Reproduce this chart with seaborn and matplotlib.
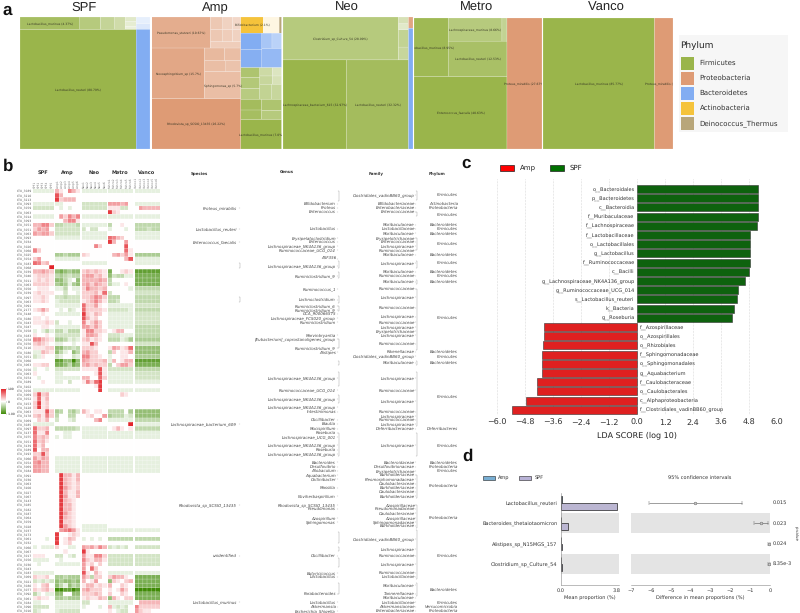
import numpy as np
import pandas as pd
import seaborn as sns
import matplotlib
matplotlib.use('Agg')
import matplotlib.pyplot as plt
from matplotlib.colors import LinearSegmentedColormap, to_rgb
from matplotlib.patches import Rectangle

W, H = 800, 613

# ---- panel a: treemap data, areas are percent of each group ----
F, P, B, A, D = 'Firmicutes', 'Proteobacteria', 'Bacteroidetes', 'Actinobacteria', 'Deinococcus_Thermus'
phylum_colors = {F: '#9AB54B', P: '#DE9B75', B: '#82ADF2', A: '#F5C33B', D: '#B8A67A'}


def leaf(area, phylum, shade=0.0, label=''):
    return {'area': area, 'phylum': phylum, 'shade': shade, 'label': label}


def row(*kids):
    return {'dir': 'row', 'kids': kids}


def col(*kids):
    return {'dir': 'col', 'kids': kids}


spf_tree = row(
    col(row(leaf(4.37, F, .12, 'Lactobacillus_murinus (4.37%)'), leaf(1.5, F, .28), leaf(1.0, F, .42), leaf(.8, F, .52),
            col(leaf(.3, F, .7), leaf(.3, F, .75), leaf(.2, F, .8))),
        leaf(80.79, F, 0, 'Lactobacillus_reuteri (80.79%)')),
    col(leaf(.55, B, .8), leaf(.45, B, .72), leaf(9.7, B, 0)))
amp_tree = row(
    col(row(leaf(10.67, P, .18, 'Pseudomonas_stutzeri (10.67%)'),
            col(row(leaf(.9, P, .45), leaf(.7, P, .55), leaf(.6, P, .6)),
                row(leaf(.9, P, .45), leaf(.7, P, .5), leaf(.6, P, .55)),
                leaf(1.1, P, .5))),
        row(leaf(15.7, P, .12, 'Novosphingobium_sp (15.7%)'),
            col(row(leaf(1.5, P, .3), leaf(1.2, P, .35)), row(leaf(1.3, P, .35), leaf(1.0, P, .4)),
                leaf(5.7, P, .35, 'Sphingomonas_sp (5.7%)'))),
        leaf(26.22, P, 0, 'Rhodovista_sp_SCSIO_13435 (26.22%)')),
    col(row(leaf(2.1, A, 0, 'Bifidobacterium (2.1%)'), leaf(1.5, A, .85), leaf(.22, D, 0)),
        row(col(leaf(2.05, B, 0), leaf(2.2, B, .03)),
            col(row(leaf(.9, B, .3), leaf(.85, B, .45)), leaf(2.2, B, .15))),
        row(col(leaf(1.1, F, .2), leaf(1.2, F, .25), leaf(1.2, F, .3)),
            col(row(leaf(.6, F, .5), leaf(.45, F, .65)), row(leaf(.6, F, .45), leaf(.45, F, .6)),
                row(leaf(1.0, F, .4), leaf(.9, F, .45)))),
        row(col(leaf(1.3, F, .1), leaf(1.15, F, .12)), col(leaf(1.3, F, .2), leaf(1.03, F, .28))),
        leaf(7.0, F, 0, 'Lactobacillus_murinus (7.0%)')))
neo_tree = row(
    col(row(leaf(28.99, F, .28, 'Clostridium_sp_Culture_54 (28.99%)'),
            col(leaf(.4, F, .6), leaf(.35, F, .7), leaf(1.0, F, .4), leaf(.75, F, .45))),
        row(leaf(32.97, F, 0, 'Lachnospiraceae_bacterium_615 (32.97%)'),
            leaf(32.32, F, .1, 'Lactobacillus_reuteri (32.32%)'))),
    col(leaf(.3, P, .1), leaf(3.2, B, .0)))
metro_tree = row(
    col(row(leaf(12.1, F, .05, 'Lactobacillus_murinus (8.95%)'),
            col(row(leaf(7.5, F, .28, 'Lachnospiraceae_murinus (8.66%)'), leaf(.7, F, .4)),
                leaf(12.53, F, .15, 'Lactobacillus_reuteri (12.53%)'))),
        leaf(40.63, F, 0, 'Enterococcus_faecalis (40.63%)')),
    leaf(27.67, P, 0, 'Proteus_mirabilis (27.67%)'))
vanco_tree = row(leaf(85.77, F, 0, 'Lactobacillus_murinus (85.77%)'), leaf(14.2, P, 0, 'Proteus_mirabilis (14.2%)'))

# ---- panel b: heatmap, digits are red levels, letters green levels, . is zero ----
heat_rows = [
    'aaaaa 31.531 aaaaaa aaaaaa aaaaaa', '..... 73.... ...... ...... ......', '..... 82333. ...... ...... ......',
    'aaaaa aa.... bbbbbb 44434. aaaaaa', 'bbbbb .a.a.. bbbbbb 111bb. .43333', '..... ...... ...... 821... ......',
    'aaaaa .42535 aaaaaa aaaaaa aaaaaa', '..... ..3551 ...... ...... ......', '33552 ccbbbc aaaaaa c..1.. cccccc',
    '2434. bbbbbb b.bb.. a...a. cccbcc', '43442 bbbbbb aaaaaa ...... aaaaaa', '..... aaaaaa aaaaaa 6532.. aaaaaa',
    '..... ...... ...... 83..4. ......', '..... ...... ...52. ....7. ......', '52... ...... ...... ....61 ......',
    '..... ddcddd 21.... .34241 dddddd', '24... aaaaaa ...... ....37 aaaaaa', '6523. ...... aaaaaa ...... aaaaaa',
    '....9 ...... ...... ...... ......', '33432 efedee 232321 f..121 gggggg', '12221 cdcbcc 344231 ebccaa ffffff',
    '12121 eeca.e 333343 c..... ffffff', '22221 dedade 342432 caa.1. ffffff', '.111. aac.aa 253323 .....a cccccc',
    '12111 ..b..a 222316 b..... bbbbbb', '1121. bbcbbb 223542 ccc... cccccc', '1121. abbbbb 123531 ccb... cccccc',
    '..... aaaaaa 62241. aaaaaa bbbbbb', '1242. .a.ba. 622221 bbbbba cccccc', '..1.. aaaaaa 82132. aaaaaa bbbbbb',
    '11.1. ...... 7312.. aaaaaa bbbbbb', '11121 b..a.. 51242. aaaaaa bbbbbb', '..11. aaaaaa 44242. aaaaaa cccccc',
    'a.aca ccaccc 155221 .133.. cccccc', '1..1. bbbbbb 14431. bbbaaa cccccc', '55321 ddcaba 23121. cccabd dddddd',
    '2321. aa..a. 1173.. ...... bbbbbb', '11122 eeccbc 2221.. 143126 eeeeee', 'aa321 eca.ec 3422.. c2.113 eeeeee',
    'ba1.. ba..ba 55221. a..11. dddddd', '..... ggeehe 432223 a3.133 gggggg', '1122. ffecfe 342322 c.2442 ffffff',
    'a..a. bbbbbb 111171 bbbbbb cccccc', '1.... aa.... ...171 aaaaaa bbbbbb', '.a... aaaaaa 33..62 aaaaaa bbbbbb',
    '..1.. aa.b.. 15268. aaaaaa aaaaaa', '..... ...... ...18. ...... ......', 'aaaaa aaaaaa ....8. aaaaaa aaaaaa',
    '2723. ...... ...... ...21. ......', '1613. ...... ...... ...... ......', '2812. ...... ...... ...... ......',
    '2812. ...... ...... ...... ......', '11172 dc.cdb 31.11. cccc.d eeeeee', '23152 c..cc. .12..4 dcccab eeeeee',
    '.213. b..ab. ...35. aaaaaa cccccc', 'aaaaa ...... ...... .....9 aaaaaa', '6223. cccccb aaaaaa .131.1 cccccc',
    '6115. ..aa.. aaaaaa aaaaaa aaaaaa', '5232. a.aa.. aaaaaa aaaaaa aaaaaa', '6231. ...... ...... ...... ......',
    '613.. ...... ...... ...... ......', '7.33. ...... ...... ...... ......', '2272. ...... ...... ...... ......',
    '4243. aaaaaa aaaaaa aaaaaa aaaaaa', '4533. aaaaaa aaaaaa aaaaaa aaaaaa', '4433. aaaaaa aaaaaa aaaaaa aaaaaa',
    '4433. aaaaaa aaaaaa aaaaaa aaaaaa', '..... .83313 ...... ...... ......', '..... .83213 ...... ...... ......',
    '..... .83212 ...... ...... ......', '..... .84212 ...... ...... ......', '..... .83113 ...... ...... ......',
    '..... .84113 ...... ...... ......', '..... .8321. ...... ...... ......', '..... .8331. ...... ...... ......',
    '..... .8331. ...... ...... ......', '..... .8421. ...... ...... ......', '..... .8321. ...... ...... ......',
    '..... .8221. ...... ...... ......', '..... .8421. aaaaaa ...... ......', '..... .45641 aaaaaa aaaaaa aaaaaa',
    '..... 8..121 ...... ...... ......', '...a. 8.132. a.a.a. cccccc cccccc', '..... 8.12.. ...... ...... ......',
    'a.aaa 2..aa. 434253 babab. bbbbbb', '..... ..1... 81.... ...... ......', '111.. bb.ab. 411552 bbbbbb bbbbbb',
    'aaaa. .a.... 521331 bbbbbb bbbbbb', '.a... aaaaaa 412.2. bbbbbb bbbbbb', '..... ...... 4.62.. ...... ......',
    'aaaaa ...... 71.31. aaaaaa aaaaaa', '2112. ddcddd 42c22. 24331. ffffff', 'babab edeede 3.14.. e21.23 ffffff',
    '1.23. ecaecd 133121 3..21. ffffff', '21231 hhgghg 34222. 1.142. hhhhhh', 'ca.aa ee..ee 22232. 2..21. ffffff',
    '1211. ddcddd 121132 e31.22 ffffff', 'aa... aaaaaa bb.... aaaaaa .33333', 'bbbb. aaaaaa a...a. 3abab. 522222',
    'ba... abbbbb ...... 1.abb. 42110.',
]
letter_levels = dict(zip('abcdefgh', [-.13, -.23, -.33, -.43, -.55, -.68, -.82, -1.0]))
group_names = ['SPF', 'Amp', 'Neo', 'Metro', 'Vanco']
group_sizes = [5, 6, 6, 6, 6]
group_x = [(33, 53.5), (55, 80), (81.5, 106.5), (108, 132.5), (134.5, 159.5)]
otu_numbers = ('3089 3210 3213 3093 3059 3063 3014 3093 3051 3051 3063 3093 3034 3026 3060 3025 3054 3083 3068 3039 '
               '3040 3011 3063 3050 3039 3097 3063 3091 2177 3148 3080 3043 3047 3058 3083 3078 3070 3116 3080 3051 '
               '3060 3063 3050 3063 3074 3089 3102 3056 3069 3052 3153 3128 3063 3178 3069 3085 3097 3137 3075 3051 '
               '3139 3089 3193 3066 3054 3069 3084 3091 3030 3063 3100 3027 3067 3143 3085 3082 3087 3064 3059 3028 '
               '3037 3173 3061 3032 3066 3067 3017 3056 3030 3043 3083 3069 3021 3080 3077 3092 3061 3084 3090 3016').split()

# panel b taxonomy columns as (row, name)
species = [(4, 'Proteus_mirabilis'), (9, 'Lactobacillus_reuteri'), (12, 'Enterococcus_faecalis'),
           (55, 'Lachnospiraceae_bacterium_609'), (74, 'Rhodovista_sp_SCSIO_13435'), (86, 'unidentified'),
           (97, 'Lactobacillus_murinus')]
genus = [(3, 'Bifidobacterium'), (4, 'Proteus'), (5, 'Enterococcus'), (9, 'Lactobacillus'), (11, 'Erysipelatoclostridium'),
         (12, 'Enterococcus'), (13, 'Lachnospiraceae_NK4A136_group'), (14, 'Ruminococcaceae_UCG_014'), (16, 'ASF356'),
         (17.6, 'Lachnospiraceae_NK4A136_group'), (20, 'Ruminiclostridium_9'), (23, 'Ruminococcus_1'),
         (25.6, 'Lachnoclostridium'), (27, 'Ruminiclostridium_6'), (28, 'Ruminiclostridium_9'), (29, 'GCA_900066575'),
         (30, 'Lachnospiraceae_FCS020_group'), (31, 'Ruminiclostridium'), (34, 'Marvinbryantia'),
         (35, '[Eubacterium]_coprostanoligenes_group'), (37, 'Ruminiclostridium_9'), (38, 'Alistipes'),
         (44, 'Lachnospiraceae_NK4A136_group'), (47, 'Ruminococcaceae_UCG_014'), (49, 'Lachnospiraceae_NK4A136_group'),
         (51, 'Lachnospiraceae_NK4A136_group'), (52, 'Intestinimonas'), (54, 'Oscillibacter'), (55, 'Blautia'),
         (56, 'Mucispirillum'), (57, 'Roseburia'), (58, 'Lachnospiraceae_UCG_001'), (60, 'Lachnospiraceae_NK4A136_group'),
         (61, 'Roseburia'), (62, 'Lachnospiraceae_NK4A136_group'), (64, 'Bacteroides'), (65, 'Desulfovibrio'),
         (66, 'Allobaculum'), (67, 'Aquabacterium'), (68, 'Chitinibacter'), (70, 'Massilia'), (72, 'Noviherbaspirillum'),
         (74, 'Rhodovista_sp_SCSIO_13435'), (75, 'Pseudomonas'), (77, 'Azospirillum'), (78, 'Sphingomonas'),
         (86, 'Oscillibacter'), (90, 'Butyricicoccus'), (91, 'Lactobacillus'), (95, 'Parabacteroides'),
         (97, 'Lactobacillus'), (98, 'Akkermansia'), (99, 'Escherichia_Shigella')]
family = [(1, 'Clostridiales_vadinBB60_group'), (3, 'Bifidobacteriaceae'), (4, 'Enterobacteriaceae'), (5, 'Enterococcaceae'),
          (8, 'Muribaculaceae'), (9, 'Lactobacillaceae'), (10, 'Muribaculaceae'), (11, 'Erysipelotrichaceae'),
          (12, 'Enterococcaceae'), (13, 'Lachnospiraceae'), (14, 'Ruminococcaceae'), (15, 'Muribaculaceae'),
          (17, 'Lachnospiraceae'), (19, 'Muribaculaceae'), (20, 'Ruminococcaceae'), (21.5, 'Muribaculaceae'),
          (23, 'Ruminococcaceae'), (25, 'Lachnospiraceae'), (27.5, 'Ruminococcaceae'), (29.6, 'Lachnospiraceae'),
          (31, 'Ruminococcaceae'), (32, 'Lachnospiraceae'), (33, 'Erysipelotrichaceae'), (34, 'Lachnospiraceae'),
          (36, 'Ruminococcaceae'), (38, 'Rikenellaceae'), (39, 'Clostridiales_vadinBB60_group'), (40.5, 'Muribaculaceae'),
          (44, 'Lachnospiraceae'), (47, 'Ruminococcaceae'), (49.5, 'Lachnospiraceae'), (52, 'Ruminococcaceae'),
          (53, 'Lachnospiraceae'), (54, 'Ruminococcaceae'), (55, 'Lachnospiraceae'), (56, 'Deferribacteraceae'),
          (60, 'Lachnospiraceae'), (64, 'Bacteroidaceae'), (65, 'Desulfovibrionaceae'), (66, 'Erysipelotrichaceae'),
          (67, 'Burkholderiaceae'), (68, 'Pleomorphomonadaceae'), (69, 'Caulobacteraceae'), (70, 'Burkholderiaceae'),
          (71, 'Caulobacteraceae'), (72, 'Burkholderiaceae'), (74, 'Azospirillaceae'), (75, 'Pseudomonadaceae'),
          (76, 'Caulobacteraceae'), (77, 'Azospirillaceae'), (78, 'Sphingomonadaceae'), (79, 'Burkholderiaceae'),
          (82, 'Clostridiales_vadinBB60_group'), (84.4, 'Lachnospiraceae'), (86, 'Ruminococcaceae'), (88, 'Lachnospiraceae'),
          (90, 'Ruminococcaceae'), (91, 'Lactobacillaceae'), (93, 'Muribaculaceae'), (95, 'Tannerellaceae'),
          (96, 'Muribaculaceae'), (97, 'Lactobacillaceae'), (98, 'Akkermansiaceae'), (99, 'Enterobacteriaceae')]
phylum = [(1, F), (3, A), (4, P), (5.5, F), (8, B), (9, F), (10, B), (12.5, F), (15, B), (17, F), (19, B), (20, F), (21.5, B),
          (30, F), (38, B), (39, F), (40.5, B), (48.6, F), (56, 'Deferribacteres'), (60, F), (64, B), (65, P), (66, F), (69.5, P),
          (77, P), (86, F), (94, B), (97, F), (98, 'Verrucomicrobia'), (99, P)]
species_brackets = [(17, 18.2), (25, 26.2)]
genus_brackets = [(0, 2.4), (16.6, 18.2), (19, 20.4), (24.7, 26.4), (27, 28.4), (35, 37), (40, 41), (42.6, 46), (48, 50),
                  (57, 62.4), (80.5, 83), (84, 84.8), (86.5, 88.6), (92.5, 95)]
family_brackets = [(0, 2.2), (5, 6), (11, 14), (16.6, 18.2), (21, 22), (23, 37.4), (40, 41), (42.6, 55.4), (57, 62.4),
                   (67, 72.4), (74, 79.4), (80, 91.4), (92.5, 95.6)]

# ---- panel c: LDA ----
lda_taxa = ['o__Bacteroidales', 'p__Bacteroidetes', 'c__Bacteroidia', 'f__Muribaculaceae', 'f__Lachnospiraceae',
            'f__Lactobacillaceae', 'o__Lactobacillales', 'g__Lactobacillus', 'f__Ruminococcaceae', 'c__Bacilli',
            'g__Lachnospiraceae_NK4A136_group', 'g__Ruminococcaceae_UCG_014', 's__Lactobacillus_reuteri', 'k__Bacteria',
            'g__Roseburia', 'f__Azospirillaceae', 'o__Azospirillales', 'o__Rhizobiales', 'f__Sphingomonadaceae',
            'o__Sphingomonadales', 'g__Aquabacterium', 'f__Caulobacteraceae', 'o__Caulobacterales',
            'c__Alphaproteobacteria', 'f__Clostridiales_vadinBB60_group']
lda_scores = [5.19, 5.18, 5.17, 5.17, 5.16, 4.86, 4.86, 4.83, 4.83, 4.8, 4.64, 4.33, 4.29, 4.14, 4.07,
              -4.0, -4.0, -4.04, -4.06, -4.06, -4.09, -4.29, -4.3, -4.77, -5.34]
lda_groups = ['SPF'] * 15 + ['Amp'] * 10
lda_ticks = [-6.0, -4.8, -3.6, -2.4, -1.2, 0.0, 1.2, 2.4, 3.6, 4.8, 6.0]

# ---- panel d: STAMP plot ----
d_species = ['Lactobacillus_reuteri', 'Bacteroides_thetaiotaomicron', 'Alistipes_sp_N15MGS_157', 'Clostridium_sp_Culture_54']
d_amp = [0.05, 0.03, 0.02, 0.02]
d_spf = [3.8, 0.45, 0.05, 0.05]
d_diff = [-3.8, -0.47, -0.06, -0.06]
d_low = [-6.1, -0.8, -0.12, -0.12]
d_high = [-1.4, -0.12, -0.01, -0.01]
d_pvalues = ['0.015', '0.023', '0.024', '8.35e-3']


def px_axes(x0, y0, x1, y1):
    ax = fig.add_axes([x0 / W, 1 - y1 / H, (x1 - x0) / W, (y1 - y0) / H])
    return ax


def px_text(x, y, s, **kw):
    kw.setdefault('ha', 'center')
    kw.setdefault('va', 'center')
    fig.text(x / W, 1 - y / H, s, **kw)


def tree_size(node):
    if 'kids' in node:
        return sum(tree_size(k) for k in node['kids'])
    return node['area']


def draw_tree(ax, node, x0, y0, x1, y1):
    if 'kids' in node:
        total = tree_size(node)
        pos = x0 if node['dir'] == 'row' else y0
        for kid in node['kids']:
            if node['dir'] == 'row':
                step = (x1 - x0) * tree_size(kid) / total
                draw_tree(ax, kid, pos, y0, pos + step, y1)
            else:
                step = (y1 - y0) * tree_size(kid) / total
                draw_tree(ax, kid, x0, pos, x1, pos + step)
            pos += step
        return
    base = np.array(to_rgb(phylum_colors[node['phylum']]))
    color = base + (1 - base) * node['shade']
    ax.add_patch(Rectangle((x0, y0), x1 - x0, y1 - y0, facecolor=color, edgecolor='white', linewidth=0.12, snap=False))
    if node['label']:
        ax.text((x0 + x1) / 2, (y0 + y1) / 2, node['label'], ha='center', va='center', fontsize=2.5, color='#333322', clip_on=True)


sns.set_theme(style='white')
plt.rcParams['font.family'] = ['DejaVu Sans']
plt.rcParams['text.hinting'] = 'no_hinting'
plt.rcParams['text.hinting_factor'] = 1
fig = plt.figure(figsize=(W / 100, H / 100), dpi=100)

# panel a
tree_boxes = [(20, 17, 150, 149), (151.5, 17, 281.5, 149), (283, 17, 413, 149), (414, 18, 542, 149), (543, 18, 673, 149)]
for name, tree, box in zip(group_names, [spf_tree, amp_tree, neo_tree, metro_tree, vanco_tree], tree_boxes):
    ax = px_axes(*box)
    ax.set_xlim(0, 1)
    ax.set_ylim(1, 0)
    ax.axis('off')
    draw_tree(ax, tree, 0, 0, 1, 1)
    px_text((box[0] + box[2]) / 2 + (-1 if name != 'Vanco' else -2), 7.5, name, fontsize=9.5, color='#222222', family='Liberation Sans')

leg_bg = px_axes(679, 35, 788, 132)
leg_bg.set_xlim(679, 788)
leg_bg.set_ylim(132, 35)
leg_bg.axis('off')
leg_bg.add_patch(Rectangle((679, 35), 109, 97, facecolor='#f6f6f6', edgecolor='none'))
px_text(680, 46, 'Phylum', fontsize=6.8, ha='left', color='#222222')
for i, name in enumerate(phylum_colors):
    leg_bg.add_patch(Rectangle((681, 57 + i * 15), 12.5, 12.5, facecolor=phylum_colors[name], edgecolor='none'))
    px_text(699.5, 63.3 + i * 15, name, fontsize=5.3, ha='left', color='#333333')

# panel b
levels = []
for r in heat_rows:
    chars = r.replace(' ', '')
    levels.append([letter_levels[c] if c in letter_levels else (int(c) / 9 if c != '.' else 0.0) for c in chars])
heat = np.array(levels)
heat_cmap = LinearSegmentedColormap.from_list('rg', ['#3f8a06', '#ffffff', '#e2242a'])
cax = px_axes(1, 389, 6, 414)
start = 0
row_labels = ['CTU_' + n for n in otu_numbers]
for g, (name, size, (x0, x1)) in enumerate(zip(group_names, group_sizes, group_x)):
    ax = px_axes(x0, 188.9, x1, 613)
    frame = pd.DataFrame(heat[:, start:start + size], index=row_labels,
                         columns=[f'{name}{i + 1}' for i in range(size)])
    sns.heatmap(frame, ax=ax, cmap=heat_cmap, vmin=-1, vmax=1, linewidths=0,
                cbar=(g == 0), cbar_ax=cax if g == 0 else None,
                xticklabels=True, yticklabels=(g == 0))
    # thin white grid, not snapped so the cells keep their full size
    ax.hlines(np.arange(1, 100), 0, size, color='white', linewidth=0.3, alpha=0.6, snap=False)
    ax.vlines(np.arange(1, size), 0, 100, color='white', linewidth=0.3, alpha=0.6, snap=False)
    ax.xaxis.tick_top()
    ax.tick_params(axis='x', labelsize=2.2, length=0, pad=0.8, rotation=90, colors='#777777')
    ax.tick_params(axis='y', labelsize=2.3, length=0, pad=0.6, rotation=0, colors='#555555')
    ax.set_ylim(100, 0)
    px_text((x0 + x1) / 2, 173, name, fontsize=3.6, fontweight='bold', color='#333333')
    start += size
cax.tick_params(labelsize=2.3, length=0.8, width=0.2, pad=0.5)
cax.set_yticks([-1, 0, 1], ['-1.00', '0', '1.00'])

tax = px_axes(160, 188.9, 460, 613)
tax.set_xlim(160, 460)
tax.set_ylim(99.5, -0.5)
tax.axis('off')
for header, x in [('Species', 199), ('Genus', 287), ('Family', 376), ('Phylum', 437)]:
    px_text(x, 173, header, fontsize=3.2, fontweight='bold', color='#333333')
for names, right in [(species, 237), (genus, 336), (family, 415), (phylum, 458)]:
    for r, label in names:
        tax.text(right, r, label, ha='right', va='center', fontsize=2.9, style='italic', color='#444444')
for brackets, x in [(species_brackets, 240), (genus_brackets, 338.5), (family_brackets, 417)]:
    for a, b in brackets:
        tax.plot([x - 1, x, x, x - 1], [a, a, b, b], color='#888888', linewidth=0.25)
for names, x in [(species, 239.5), (genus, 337.5), (family, 416)]:
    for r, label in names:
        tax.plot([x - .8, x + .4], [r, r], color='#777777', linewidth=0.2)

# panel c
lda = pd.DataFrame({'taxon': lda_taxa, 'score': lda_scores, 'group': lda_groups})
ax = px_axes(497, 179, 777, 415)
sns.barplot(data=lda, y='taxon', x='score', hue='group', palette={'SPF': '#007000', 'Amp': '#ff0000'}, dodge=False,
            width=0.88, edgecolor='#333333', linewidth=0.4, legend=False, ax=ax)
ax.set_xlim(-6, 6)
ax.set_ylim(24.56, -1.09)
ax.set_xticks(lda_ticks, [f'{t:.1f}'.replace('-', '\u2212') for t in lda_ticks])
ax.set_yticks([])
ax.set_xlabel('')
ax.set_ylabel('')
ax.grid(axis='x', linestyle=':', linewidth=0.4, color='#bbbbbb')
ax.set_axisbelow(True)
ax.tick_params(axis='x', labelsize=6, length=0, pad=3, colors='#333333')
sns.despine(ax=ax, left=True, bottom=True)
for i, (taxon, score) in enumerate(zip(lda_taxa, lda_scores)):
    if score > 0:
        ax.text(-0.1, i, taxon, ha='right', va='center', fontsize=3.5, color='#333333')
    else:
        ax.text(0.12, i, taxon, ha='left', va='center', fontsize=3.5, color='#333333')
px_text(637, 435, 'LDA SCORE (log 10)', fontsize=6, color='#222222')
leg = px_axes(495, 160, 590, 172)
leg.set_xlim(495, 590)
leg.set_ylim(172, 160)
leg.axis('off')
leg.add_patch(Rectangle((500, 165), 14, 5.5, facecolor='#ff0000', edgecolor='#222222', linewidth=0.5))
leg.add_patch(Rectangle((550, 165), 14, 5.5, facecolor='#007000', edgecolor='#222222', linewidth=0.5))
px_text(520, 168, 'Amp', fontsize=5, ha='left', color='#222222')
px_text(570, 168, 'SPF', fontsize=5, ha='left', color='#222222')

# panel d
stamp = pd.DataFrame({'species': d_species * 2, 'value': d_amp + d_spf, 'group': ['Amp'] * 4 + ['SPF'] * 4})
ax = px_axes(561, 493, 619, 585)
for r in (1, 3):
    ax.axhspan(r - .5, r + .5, color='#e4e4e4', zorder=0, linewidth=0)
sns.barplot(data=stamp, y='species', x='value', hue='group', palette={'Amp': '#78aed3', 'SPF': '#b8b2d6'},
            width=0.66, edgecolor='#222222', linewidth=0.5, legend=False, ax=ax, zorder=2)
ax.set_xlim(0, 3.95)
ax.set_ylim(4.04, -0.49)
ax.set_xticks([0, 3.8], ['0.0', '3.8'])
ax.set_xlabel('Mean proportion (%)', fontsize=3.6, labelpad=1.5, color='#333333')
ax.set_ylabel('')
ax.tick_params(axis='both', labelsize=3.6, length=1, width=0.3, pad=1.5, colors='#333333')
sns.despine(ax=ax)
for s in ('left', 'bottom'):
    ax.spines[s].set_linewidth(0.4)
    ax.spines[s].set_color('#888888')

ax = px_axes(631, 493, 770, 585)
for r in (1, 3):
    ax.axhspan(r - .5, r + .5, color='#e4e4e4', zorder=0, linewidth=0)
y_pos = np.arange(len(d_species))
ax.errorbar(d_diff, y_pos, xerr=[np.array(d_diff) - np.array(d_low), np.array(d_high) - np.array(d_diff)],
            fmt='o', ms=2, mfc='#c8c8c8', mec='#555555', mew=0.3, ecolor='#555555', elinewidth=0.4, capsize=1.2, capthick=0.3)
ax.axvline(0, linestyle=':', linewidth=0.4, color='#999999')
ax.set_xlim(-7, 0)
ax.set_ylim(4.04, -0.49)
ax.set_yticks([])
ax.set_xticks(range(-7, 1), [str(t).replace('-', '\u2212') for t in range(-7, 1)])
ax.set_xlabel('Difference in mean proportions (%)', fontsize=3.6, labelpad=1.5, color='#333333')
ax.tick_params(axis='x', labelsize=3.6, length=1, width=0.3, pad=1.5, colors='#333333')
sns.despine(ax=ax, left=True, right=True)
ax.spines['bottom'].set_linewidth(0.4)
ax.spines['bottom'].set_color('#888888')
for r, p_val in zip(y_pos, d_pvalues):
    ax.text(0.15, r, p_val, fontsize=3.6, va='center', ha='left', color='#333333', clip_on=False)
px_text(700, 478, '95% confidence intervals', fontsize=3.6, color='#333333')
px_text(797, 533, 'p-value', fontsize=3.2, rotation=-90, color='#333333')
leg = px_axes(480, 472, 550, 484)
leg.set_xlim(480, 550)
leg.set_ylim(484, 472)
leg.axis('off')
leg.add_patch(Rectangle((483, 476), 11.5, 4, facecolor='#78aed3', edgecolor='#222222', linewidth=0.4))
leg.add_patch(Rectangle((519, 476), 11.5, 4, facecolor='#b8b2d6', edgecolor='#222222', linewidth=0.4))
px_text(498, 478, 'Amp', fontsize=3.7, ha='left', color='#333333')
px_text(535, 478, 'SPF', fontsize=3.7, ha='left', color='#333333')

# panel letters
for letter, x, y in [('a', 7, 10), ('b', 8, 166), ('c', 466, 163), ('d', 467, 456)]:
    px_text(x, y, letter, fontsize=12, fontweight='bold', color='#111111', family='Liberation Sans')

fig.savefig('out.png', dpi=100)
